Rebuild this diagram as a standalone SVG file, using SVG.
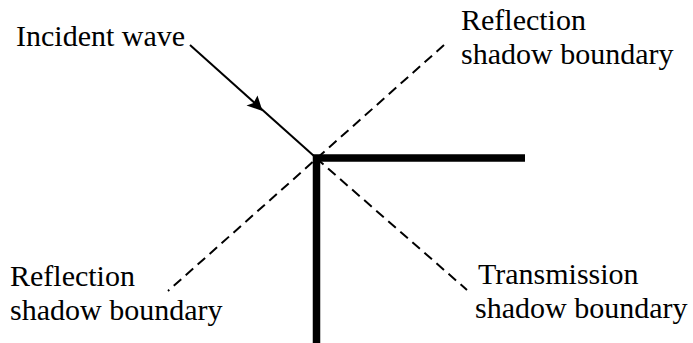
<svg xmlns="http://www.w3.org/2000/svg" width="693" height="343" viewBox="0 0 693 343">
<style>
.wall{stroke:#000;stroke-width:7.5;fill:none}
.dash{stroke:#000;stroke-width:2;stroke-dasharray:10 6;fill:none}
.ray{stroke:#000;stroke-width:2;fill:none}
</style>
<rect width="693" height="343" fill="#fff"/>
<g id="connectors">
<line class="dash" x1="444" y1="45" x2="168" y2="291"/>
<line class="dash" x1="316" y1="158" x2="467" y2="290"/>
<line class="ray" x1="190" y1="45" x2="314" y2="156"/>
<path d="M262.5,111 L246.5,105.5 L253.5,103 L257.5,95.5 Z" fill="#000"/>
</g>
<g id="wall">
<path class="wall" d="M525,158 H316.5 V343"/>
</g>
<g font-family="Liberation Serif, Times New Roman, serif" font-size="30" fill="#000">
<g id="incident-label"><text x="16" y="46">Incident wave</text></g>
<g id="reflection-top"><text x="461" y="30">Reflection</text><text x="461" y="64">shadow boundary</text></g>
<g id="reflection-bottom"><text x="10" y="286">Reflection</text><text x="10" y="320">shadow boundary</text></g>
<g id="transmission"><text x="478" y="284">Transmission</text><text x="475" y="318">shadow boundary</text></g>
</g>
</svg>
